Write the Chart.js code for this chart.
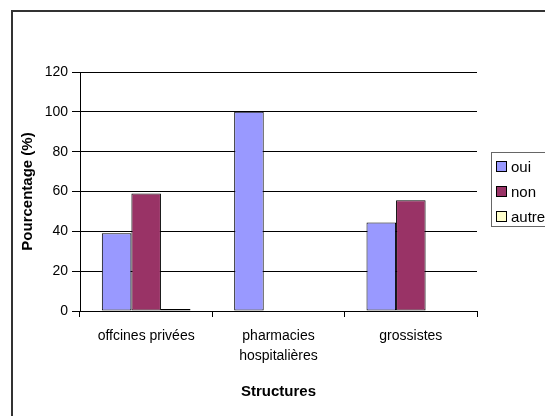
<!DOCTYPE html>
<html>
<head>
<meta charset="utf-8">
<script src="https://cdn.jsdelivr.net/npm/chart.js@4/dist/chart.umd.min.js"></script>
<style>
html,body{margin:0;padding:0;background:#fff;}
#wrap{width:545px;height:416px;position:relative;}
</style>
</head>
<body>
<div id="wrap"><canvas id="c" width="545" height="416"></canvas></div>
<script>
const categories = [['offcines privées'], ['pharmacies', 'hospitalières'], ['grossistes']];
const seriesNames = ['oui', 'non', 'autre'];
const ouiValues = [39, 100, 44.4];
const nonValues = [59, 0, 55.6];
const autreValues = [1, 0, 0];
const yTicks = [0, 20, 40, 60, 80, 100, 120];
const seriesColors = ['#9999FF', '#993366', '#FFFFCC'];
const yTitle = 'Pourcentage (%)';
const xTitle = 'Structures';

const FONT = "'Liberation Sans', Arial, sans-serif";

const framePlugin = {
  id: 'frame',
  beforeDraw(chart) {
    const ctx = chart.ctx;
    ctx.save();
    ctx.fillStyle = '#fff';
    ctx.fillRect(0, 0, chart.width, chart.height);
    ctx.strokeStyle = '#333';
    ctx.lineWidth = 2;
    ctx.strokeRect(12, 11, chart.width + 20, chart.height + 20);
    ctx.restore();
  }
};

const legendPlugin = {
  id: 'customLegend',
  afterDraw(chart) {
    const ctx = chart.ctx;
    ctx.save();
    const bx = 491.5, by = 152.5, bw = 80, bh = 74;
    ctx.fillStyle = '#fff';
    ctx.fillRect(bx, by, bw, bh);
    ctx.strokeStyle = '#666';
    ctx.lineWidth = 1;
    ctx.strokeRect(bx, by, bw, bh);
    ctx.font = '15px ' + FONT;
    ctx.textBaseline = 'middle';
    chart.data.datasets.forEach((ds, i) => {
      const cy = 167 + i * 25;
      ctx.fillStyle = ds.backgroundColor;
      ctx.fillRect(496.5, cy - 5.5, 10, 10);
      ctx.strokeStyle = '#000';
      ctx.strokeRect(496.5, cy - 5.5, 10, 10);
      ctx.fillStyle = '#000';
      ctx.fillText(ds.label, 511, cy + 1);
    });
    ctx.restore();
  }
};

new Chart(document.getElementById('c'), {
  type: 'bar',
  data: {
    labels: categories,
    datasets: [
      { label: seriesNames[0], data: ouiValues, backgroundColor: seriesColors[0] },
      { label: seriesNames[1], data: nonValues, backgroundColor: seriesColors[1] },
      { label: seriesNames[2], data: autreValues, backgroundColor: seriesColors[2] }
    ].map(d => Object.assign(d, {
      borderColor: '#000', borderWidth: 1, borderSkipped: false,
      categoryPercentage: 0.67, barPercentage: 1.0
    }))
  },
  options: {
    responsive: false,
    animation: false,
    devicePixelRatio: 1,
    layout: { padding: { left: 12, top: 72, right: 68, bottom: 0 } },
    plugins: { legend: { display: false }, tooltip: { enabled: false } },
    scales: {
      x: {
        grid: { display: true, drawOnChartArea: false, drawTicks: true, tickLength: 6, color: '#000', offset: true },
        border: { display: true, color: '#000', width: 1 },
        ticks: { color: '#000', font: { family: FONT, size: 14, lineHeight: 1.45 }, padding: 9, maxRotation: 0, autoSkip: false },
        title: { display: true, text: xTitle, color: '#000', font: { family: FONT, size: 15, weight: 'bold' }, padding: { bottom: 15, top: 0 } },
        afterFit(scale) { scale.height = 105; }
      },
      y: {
        min: 0, max: 120,
        afterBuildTicks(scale) { scale.ticks = yTicks.map(v => ({ value: v })); },
        grid: { color: '#000', lineWidth: 1, tickLength: 8, drawTicks: true },
        border: { display: true, color: '#000', width: 1 },
        ticks: { color: '#000', font: { family: FONT, size: 14 }, padding: 4 },
        title: { display: true, text: yTitle, color: '#000', font: { family: FONT, size: 15, weight: 'bold' }, padding: { top: 7, bottom: 0 } },
        afterFit(scale) { scale.width = 68; }
      }
    }
  },
  plugins: [framePlugin, legendPlugin]
});
</script>
</body>
</html>
